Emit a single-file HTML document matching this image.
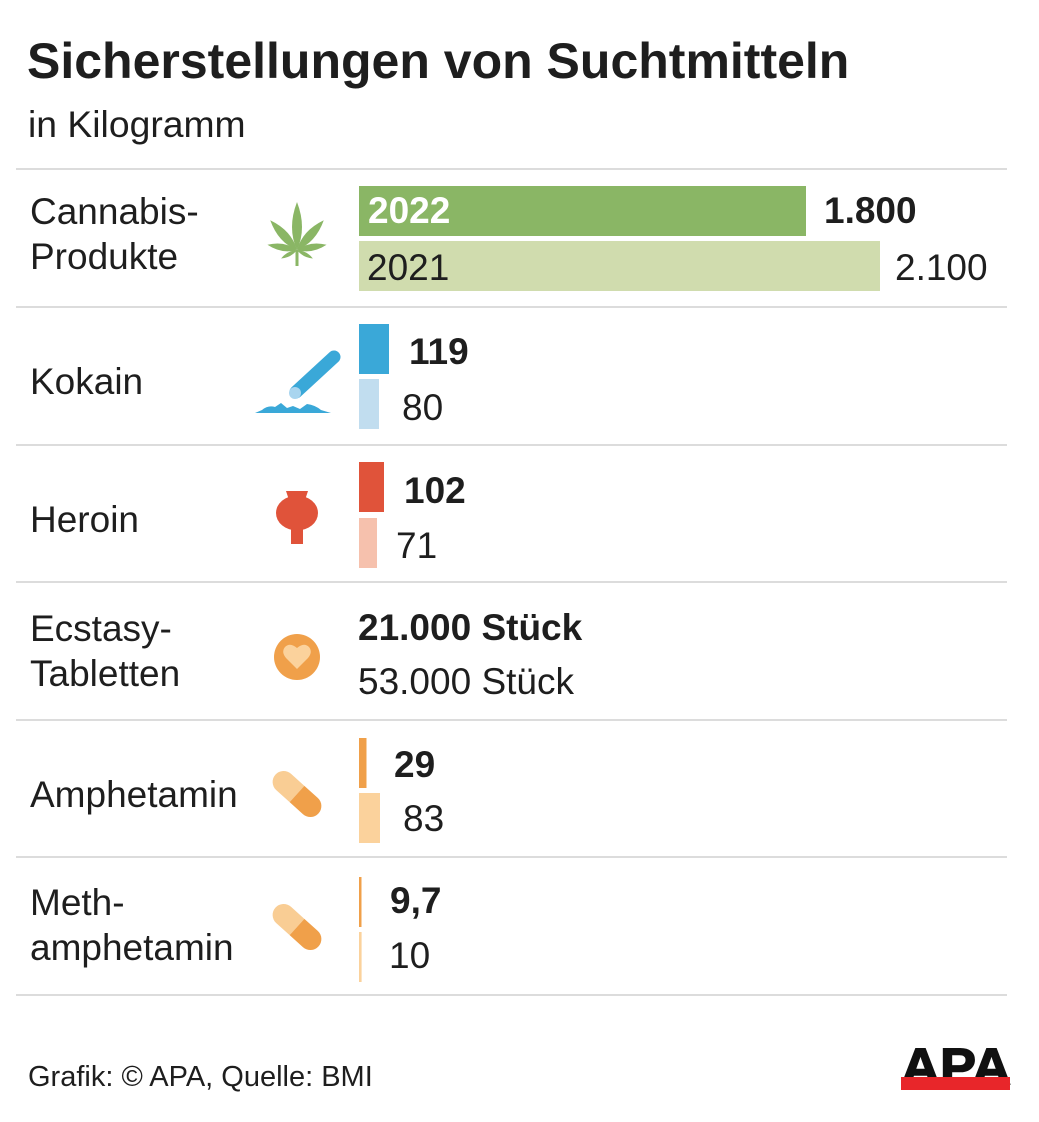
<!DOCTYPE html>
<html><head><meta charset="utf-8"><style>
html,body{margin:0;padding:0;background:#fff;}
svg{display:block;}
text{font-family:"Liberation Sans",Arial,sans-serif;fill:#1e1e1e;}
.b{font-weight:bold;}
</style></head><body>
<svg width="1039" height="1122" viewBox="0 0 1039 1122" xmlns="http://www.w3.org/2000/svg">
<rect width="1039" height="1122" fill="#fff"/>
<text x="27" y="78" class="b" font-size="50" fill="#1a1a1a">Sicherstellungen von Suchtmitteln</text>
<text x="28" y="137" font-size="37.3">in Kilogramm</text>

<g fill="#dcdcdc">
<rect x="16" y="168" width="991" height="2"/>
<rect x="16" y="306" width="991" height="2"/>
<rect x="16" y="444" width="991" height="2"/>
<rect x="16" y="581" width="991" height="2"/>
<rect x="16" y="719" width="991" height="2"/>
<rect x="16" y="856" width="991" height="2"/>
<rect x="16" y="994" width="991" height="2"/>
</g>

<!-- labels -->
<g font-size="37">
<text x="30" y="224">Cannabis-</text>
<text x="30" y="269">Produkte</text>
<text x="30" y="394">Kokain</text>
<text x="30" y="532">Heroin</text>
<text x="30" y="641">Ecstasy-</text>
<text x="30" y="686">Tabletten</text>
<text x="30" y="807">Amphetamin</text>
<text x="30" y="915">Meth-</text>
<text x="30" y="960">amphetamin</text>
</g>

<!-- bars -->
<rect x="359" y="186" width="447" height="50" fill="#8ab665"/>
<rect x="359" y="241" width="521" height="50" fill="#d0dcae"/>
<text x="368" y="223" class="b" font-size="37" style="fill:#fff">2022</text>
<text x="367" y="280" font-size="37">2021</text>
<text x="824" y="223" class="b" font-size="37">1.800</text>
<text x="895" y="280" font-size="37">2.100</text>

<rect x="359" y="324" width="30" height="50" fill="#3aa8d8"/>
<rect x="359" y="379" width="20" height="50" fill="#c1ddef"/>
<text x="409" y="364" class="b" font-size="37">119</text>
<text x="402" y="420" font-size="37">80</text>

<rect x="359" y="462" width="25" height="50" fill="#e0533a"/>
<rect x="359" y="518" width="18" height="50" fill="#f6c1ad"/>
<text x="404" y="503" class="b" font-size="37">102</text>
<text x="396" y="558" font-size="37">71</text>

<text x="358" y="640" class="b" font-size="37">21.000 Stück</text>
<text x="358" y="694" font-size="37">53.000 Stück</text>

<rect x="359" y="738" width="7.5" height="50" fill="#f0a04a"/>
<rect x="359" y="793" width="21" height="50" fill="#fbd29c"/>
<text x="394" y="777" class="b" font-size="37">29</text>
<text x="403" y="831" font-size="37">83</text>

<rect x="359" y="877" width="2.5" height="50" fill="#f0a04a"/>
<rect x="359" y="932" width="2.6" height="50" fill="#fbd29c"/>
<text x="390" y="913" class="b" font-size="37">9,7</text>
<text x="389" y="968" font-size="37">10</text>

<!-- cannabis leaf -->
<g fill="#8ab665" transform="translate(297,250)">
<path d="M0 0 Q10 -22 0 -48 Q-10 -22 0 0Z"/>
<path d="M0 0 Q9 -18 0 -40 Q-9 -18 0 0Z" transform="rotate(42)"/>
<path d="M0 0 Q9 -18 0 -40 Q-9 -18 0 0Z" transform="rotate(-42)"/>
<path d="M0 0 Q7 -14 0 -30 Q-7 -14 0 0Z" transform="rotate(80)"/>
<path d="M0 0 Q7 -14 0 -30 Q-7 -14 0 0Z" transform="rotate(-80)"/>
<path d="M0 0 Q4 -9 0 -18 Q-4 -9 0 0Z" transform="rotate(118)"/>
<path d="M0 0 Q4 -9 0 -18 Q-4 -9 0 0Z" transform="rotate(-118)"/>
<rect x="-1.5" y="0" width="3" height="16"/>
</g>

<!-- cocaine -->
<path d="M255 413 L262 410 Q268 405 275 407 L281 403 L287 408 L293 406 L300 409 L307 404 Q315 405 321 410 L331 413 Z" fill="#3aa8d8"/>
<line x1="296" y1="392" x2="334" y2="357" stroke="#3aa8d8" stroke-width="13" stroke-linecap="round"/>
<circle cx="295" cy="393" r="6" fill="#a9d5ef"/>

<!-- heroin poppy -->
<g fill="#e0533a">
<path d="M286 491 L308 491 L305 500 L289 500 Z"/>
<ellipse cx="297" cy="513" rx="21" ry="17.5"/>
<rect x="291" y="524" width="12" height="20"/>
</g>

<!-- ecstasy -->
<circle cx="297" cy="657" r="23" fill="#f0a04a"/>
<path d="M297 669 L286 658 Q281 652 285 647 Q290 642 297 648 Q304 642 309 647 Q313 652 308 658 Z" fill="#fbd29c"/>

<!-- pills -->
<g transform="translate(297,794) rotate(42)">
<path d="M0 -11 L-18 -11 A11 11 0 0 0 -18 11 L0 11 Z" fill="#f9cd94"/>
<path d="M0 -11 L18 -11 A11 11 0 0 1 18 11 L0 11 Z" fill="#f0a04a"/>
</g>
<g transform="translate(297,927) rotate(42)">
<path d="M0 -11 L-18 -11 A11 11 0 0 0 -18 11 L0 11 Z" fill="#f9cd94"/>
<path d="M0 -11 L18 -11 A11 11 0 0 1 18 11 L0 11 Z" fill="#f0a04a"/>
</g>

<!-- footer -->
<text x="28" y="1086" font-size="29" fill="#222">Grafik: © APA, Quelle: BMI</text>
<text x="901" y="1084" class="b" font-size="51" style="fill:#111;stroke:#111;stroke-width:1.5" textLength="110" lengthAdjust="spacingAndGlyphs">APA</text>
<rect x="901" y="1077" width="109" height="13" fill="#e8262a"/>
</svg>
</body></html>
